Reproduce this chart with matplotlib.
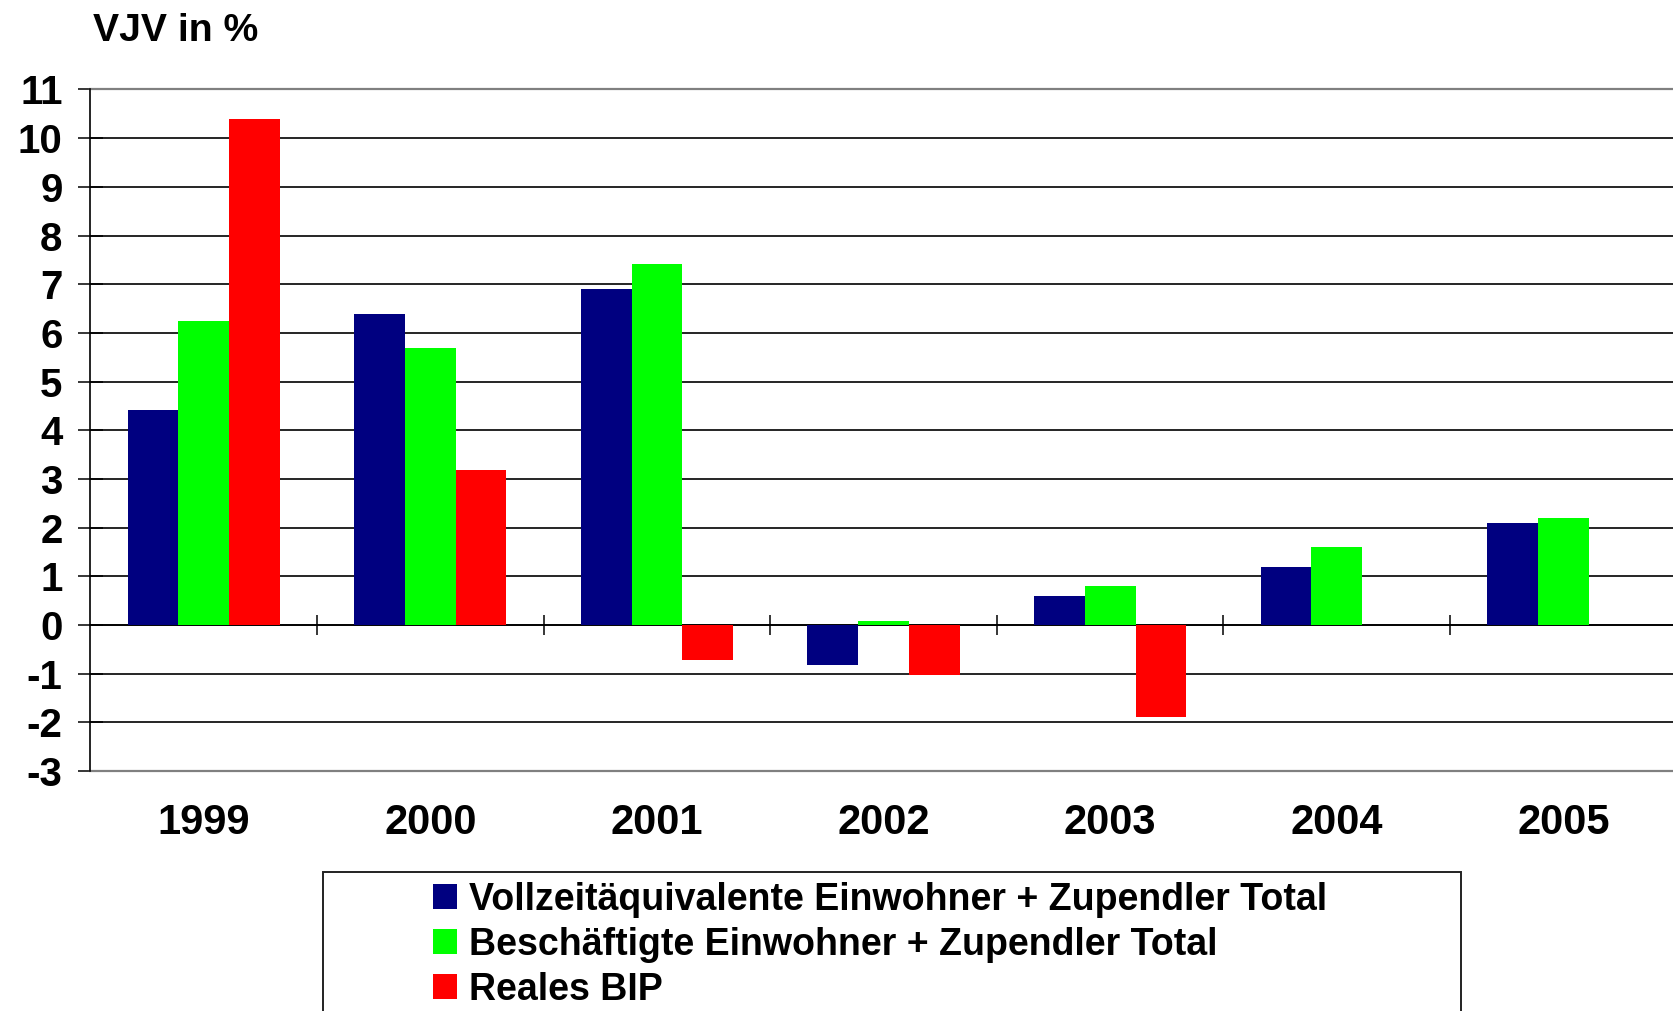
import numpy as np
from matplotlib import pyplot as plt
from matplotlib.patches import Rectangle

# Daten (VJV in %)
jahre = ["1999", "2000", "2001", "2002", "2003", "2004", "2005"]
vollzeit = [4.42, 6.39, 6.91, -0.83, 0.60, 1.20, 2.10]
beschaeftigte = [6.24, 5.69, 7.41, 0.09, 0.79, 1.60, 2.19]
bip = [10.40, 3.19, -0.73, -1.02, -1.89, np.nan, np.nan]

serien = [
    ("Vollzeitäquivalente Einwohner + Zupendler Total", vollzeit, "#000080"),
    ("Beschäftigte Einwohner + Zupendler Total", beschaeftigte, "#00ff00"),
    ("Reales BIP", bip, "#ff0000"),
]

plt.rcParams['font.family'] = ['Liberation Sans', 'DejaVu Sans']
plt.rcParams['font.weight'] = 'bold'
plt.rcParams['axes.unicode_minus'] = False

fig = plt.figure(figsize=(16.74, 10.11), dpi=100)
ax = fig.add_axes([0.054, 0.2374, 0.9476, 0.6741])

x = np.arange(len(jahre))
breite = 0.224
for i, (name, werte, farbe) in enumerate(serien):
    ax.bar(x + (i - 1) * breite, werte, breite, color=farbe, label=name, zorder=3)

ymin, ymax = -3, 11
ax.set_xlim(-0.5, len(jahre) - 0.5)
ax.set_ylim(ymin, ymax)
ax.set_yticks(range(ymin, ymax + 1))
ax.set_xticks(x)
ax.set_xticklabels(jahre)

ax.yaxis.grid(True, color='black', lw=1.2, zorder=1)
ax.tick_params(axis='y', direction='inout', length=18, width=1.1, pad=11,
               labelsize=29, color='black')
ax.tick_params(axis='x', length=0, pad=23, labelsize=30)

for s in ['top', 'bottom']:
    ax.spines[s].set_color('#808080')
    ax.spines[s].set_linewidth(1.6)
    ax.spines[s].set_zorder(2)
ax.spines['right'].set_visible(False)
ax.spines['left'].set_color('black')
ax.spines['left'].set_linewidth(1.2)

# Nulllinie mit Trennstrichen zwischen den Jahren
null = ax.secondary_xaxis((0 - ymin) / (ymax - ymin))
null.set_xticks(x[:-1] + 0.5)
null.set_xticklabels([])
null.tick_params(direction='inout', length=14, width=1.1, color='black')
null.spines['bottom'].set_color('black')
null.spines['bottom'].set_linewidth(1.2)

# Titel
fig.text(0.0554, 1 - 40.7 / 1011, "VJV in %", fontsize=28.2, fontweight='bold',
         ha='left', va='baseline')

# Legende mit Rahmen
fig.patches.append(Rectangle((323 / 1674, -0.05), (1461 - 323) / 1674,
                             (1011 - 872) / 1011 + 0.05, transform=fig.transFigure,
                             facecolor='white', edgecolor='#222222', lw=1.4, zorder=0))
fig.legend(loc='upper left', bbox_to_anchor=(433 / 1674, 1 - 882 / 1011),
           frameon=False, fontsize=27, borderpad=0, borderaxespad=0,
           handlelength=0.64, handleheight=0.64, handletextpad=0.32,
           labelspacing=0.24)

plt.savefig("out.png", dpi=100)
